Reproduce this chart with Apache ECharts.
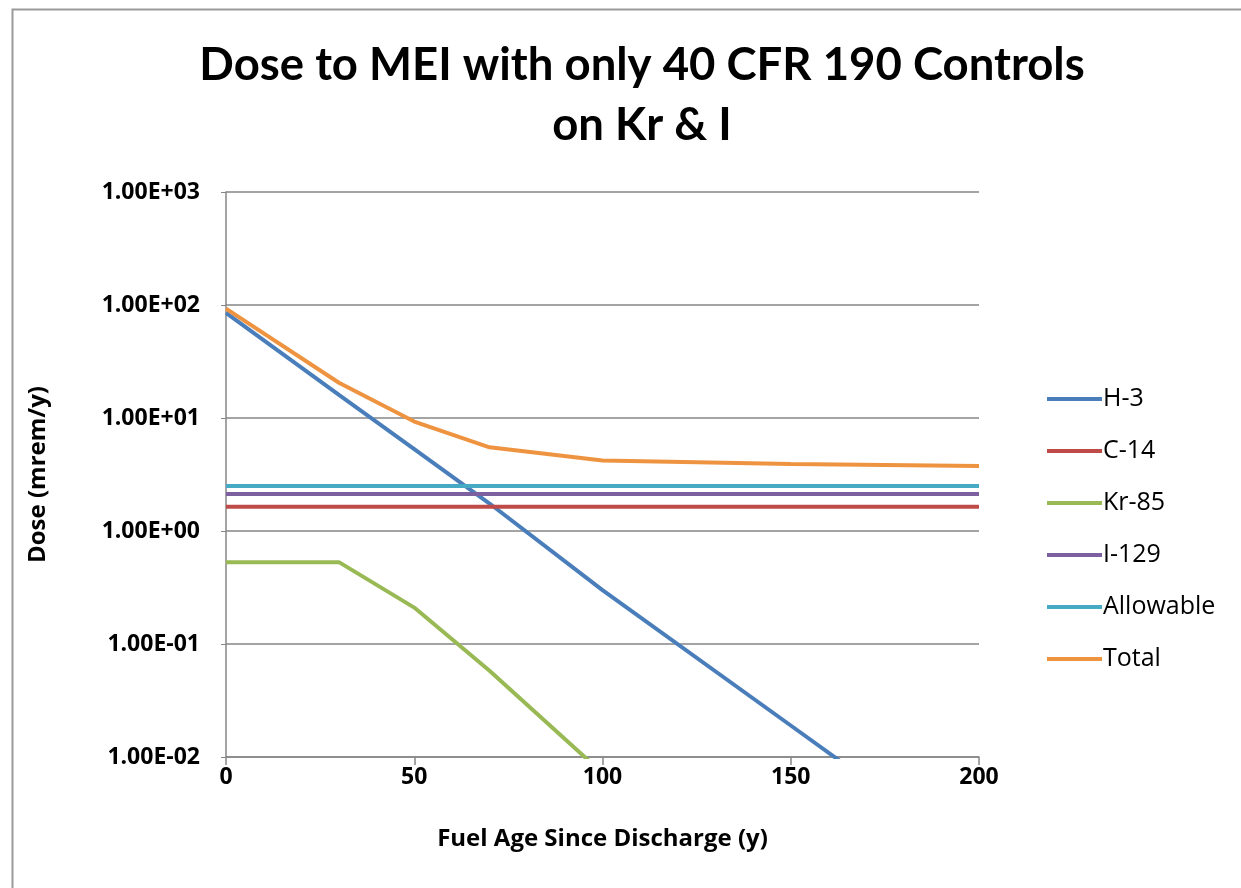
<!DOCTYPE html>
<html>
<head>
<meta charset="utf-8">
<script src="https://cdn.jsdelivr.net/npm/echarts@6/dist/echarts.min.js"></script>
<style>
html,body{margin:0;padding:0;background:#fff;}
#chart{width:1241px;height:888px;}
</style>
</head>
<body>
<div id="chart"></div>
<script>
// Data
const years = [0, 30, 50, 70, 100, 150, 200];
const h3 = [85, 16, 5.3, 1.75, 0.3, 0.019, 0.0012];
const c14 = [1.64, 1.64, 1.64, 1.64, 1.64, 1.64, 1.64];
const kr85 = [0.53, 0.53, 0.21, 0.058, 0.0072, 0.00028, 0.00001];
const i129 = [2.12, 2.12, 2.12, 2.12, 2.12, 2.12, 2.12];
const allowable = [2.5, 2.5, 2.5, 2.5, 2.5, 2.5, 2.5];
const total = [93, 20.5, 9.3, 5.5, 4.2, 3.92, 3.76];
const seriesNames = ['H-3', 'C-14', 'Kr-85', 'I-129', 'Allowable', 'Total'];
const seriesColors = ['#4A7EBB', '#BE4B48', '#98B954', '#7D60A0', '#46AAC5', '#EE9340'];
const yTickLabels = {'0.01':'1.00E-02','0.1':'1.00E-01','1':'1.00E+00','10':'1.00E+01','100':'1.00E+02','1000':'1.00E+03'};

const seriesData = [h3, c14, kr85, i129, allowable, total];
const titleFont = 'Lato, "Open Sans", sans-serif';
const font = '"Open Sans", Lato, sans-serif';

const chart = echarts.init(document.getElementById('chart'));
chart.setOption({
  backgroundColor: '#fff',
  animation: false,
  title: {
    text: 'Dose to MEI with only 40 CFR 190 Controls\non Kr & I',
    left: 642,
    top: 30,
    textAlign: 'center',
    padding: [5, 0, 5, 0],
    textStyle: {fontFamily: titleFont, fontWeight: 'bold', fontSize: 45.5, color: '#000', lineHeight: 60}
  },
  graphic: [{
    type: 'rect', left: 10, top: 7, z: -1,
    shape: {x: 0, y: 0, width: 1240, height: 890},
    style: {fill: 'none', stroke: '#9a9a9a', lineWidth: 2}
  }],
  legend: {
    orient: 'vertical',
    left: 1042,
    top: 381,
    itemWidth: 55,
    itemHeight: 4,
    itemGap: 26,
    icon: 'rect',
    data: seriesNames,
    textStyle: {fontFamily: font, fontSize: 25, lineHeight: 26, color: '#000', padding: [0, 0, 0, -4]}
  },
  grid: {left: 226, right: 262, top: 192, bottom: 131},
  xAxis: {
    type: 'value', min: 0, max: 200, interval: 50,
    name: 'Fuel Age Since Discharge (y)',
    nameLocation: 'middle', nameGap: 70,
    nameTextStyle: {fontFamily: font, fontWeight: 'bold', fontSize: 24, color: '#000'},
    axisLine: {lineStyle: {color: '#868686', width: 1.5}},
    axisTick: {show: true, length: 8, lineStyle: {color: '#868686', width: 1.5}},
    axisLabel: {fontFamily: font, fontWeight: 'bold', fontSize: 23, color: '#000', margin: 9},
    splitLine: {show: false}
  },
  yAxis: {
    type: 'log', logBase: 10, min: 0.01, max: 1000,
    name: 'Dose (mrem/y)',
    nameLocation: 'middle', nameGap: 176, nameRotate: 90,
    nameTextStyle: {fontFamily: font, fontWeight: 'bold', fontSize: 24, color: '#000'},
    axisLine: {show: true, lineStyle: {color: '#868686', width: 1.5}},
    axisTick: {show: true, length: 5, lineStyle: {color: '#868686'}},
    axisLabel: {
      fontFamily: font, fontWeight: 'bold', fontSize: 23, color: '#000', margin: 26,
      formatter: v => yTickLabels[String(+v.toPrecision(6))] || ''
    },
    splitLine: {show: true, lineStyle: {color: '#868686', width: 1.5}}
  },
  series: seriesNames.map((n, i) => ({
    name: n,
    type: 'line',
    data: years.map((x, j) => [x, seriesData[i][j]]),
    showSymbol: false,
    symbol: 'none',
    clip: true,
    lineStyle: {width: 4, color: seriesColors[i]},
    itemStyle: {color: seriesColors[i]}
  }))
});
</script>
</body>
</html>
